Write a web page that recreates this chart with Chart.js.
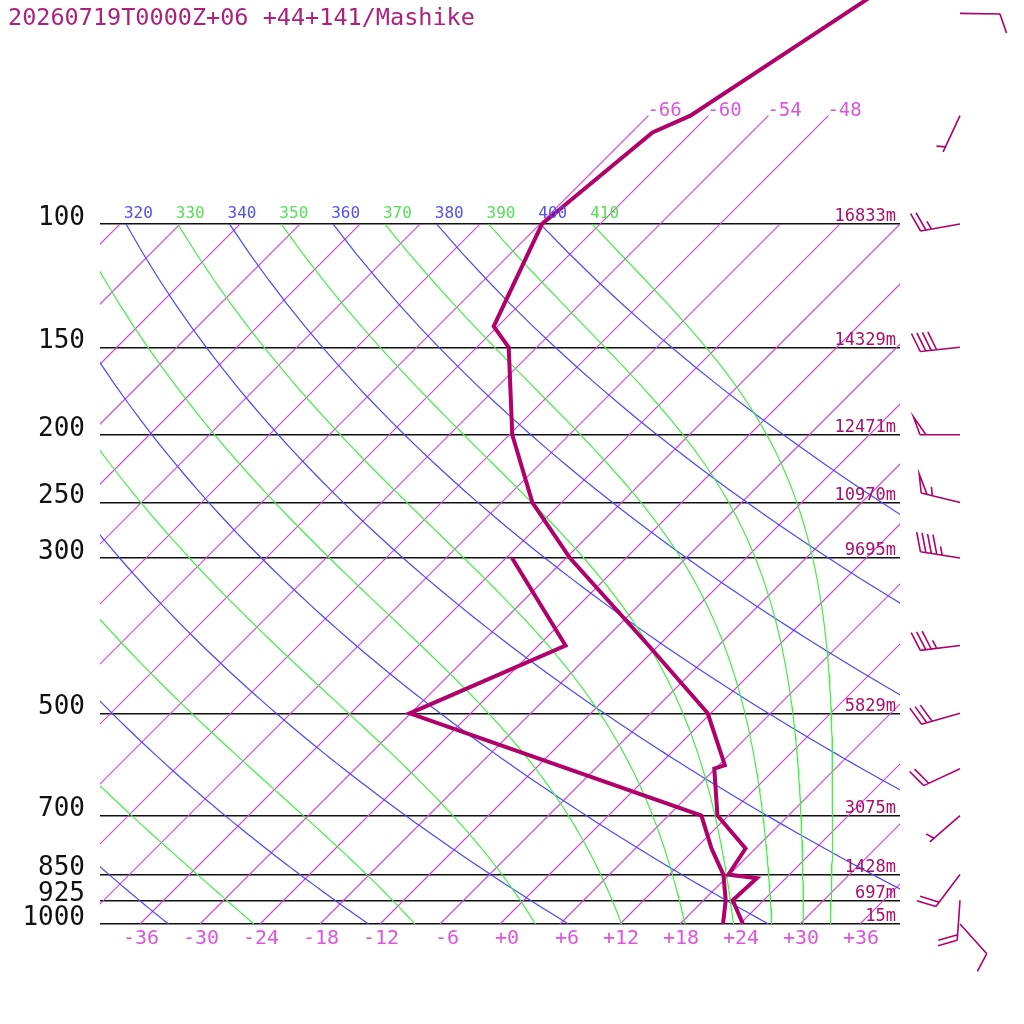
<!DOCTYPE html>
<html>
<head>
<meta charset="utf-8">
<script src="https://cdn.jsdelivr.net/npm/chart.js@4.4.1/dist/chart.umd.min.js"></script>
<style>
  html, body { margin: 0; padding: 0; background: #fff; }
  canvas { display: block; }
</style>
</head>
<body>
<canvas id="skewt" width="1024" height="1024"></canvas>
<script>
// sounding: 20260719T0000Z+06, Mashike
const titleText = "20260719T0000Z+06 +44+141/Mashike";

// isobars drawn across the diagram, with their labels and heights
const levels = [100, 150, 200, 250, 300, 500, 700, 850, 925, 1000];
const levelLabels = ["100", "150", "200", "250", "300", "500", "700", "850", "925", "1000"];
const levelHeights = ["16833m", "14329m", "12471m", "10970m", "9695m", "5829m", "3075m", "1428m", "697m", "15m"];

// temperature profile (hPa, degC)
const tempP = [30, 50, 70, 74, 100, 140, 150, 200, 250, 300, 400, 500, 593, 600, 700, 780, 850, 860, 925, 1000];
const tempC = [-48.5, -56.5, -61.8, -63.9, -65.8, -60.4, -56.8, -47.7, -38.9, -29.6, -13.0, -0.3, 6.6, 5.9, 10.9, 17.0, 17.9, 21.1, 20.9, 24.3];

// dew point profile (hPa, degC)
const dewP = [300, 400, 500, 700, 780, 850, 925, 1000];
const dewC = [-35.4, -21.3, -30.1, 9.3, 13.6, 17.4, 20.2, 22.3];

// winds (hPa, direction deg, speed kt)
const windP = [50, 70, 100, 150, 200, 250, 300, 400, 500, 600, 700, 850, 925, 1000];
const windDir = [91, 205, 260, 264, 270, 284, 279, 263, 254, 245, 229, 217, 184, 138];
const windKt = [10, 5, 25, 40, 50, 55, 45, 35, 30, 20, 5, 20, 20, 10];

// background lines
const isotherms = [-108, -102, -96, -90, -84, -78, -72, -66, -60, -54, -48, -42, -36, -30, -24, -18, -12, -6, 0, 6, 12, 18, 24, 30, 36];
const upperIsotherms = [-66, -60, -54, -48];
const dryTheta = [240, 260, 280, 300, 320, 340, 360, 380, 400];
const moistThetaE = [250, 270, 290, 310, 330, 350, 370, 390, 410];
const xTicks = [-36, -30, -24, -18, -12, -6, 0, 6, 12, 18, 24, 30, 36];

const pTop = 47.85;   // pressure at the top edge of the plot
const pUpper = 70;    // upper isotherms stop here
const skew = 30.4;    // x units per ln(1000/p)
const kappa = 0.2857;

const PROFILE = "#b0006a";
const ISO = "#d444d8";
const BLUE = "#4848ff";
const GREEN = "#44ee44";
const MONO = "DejaVu Sans Mono";

function skewX(tC, p) {
  return tC + skew * Math.log(1000 / p);
}

function pts(ps, ts) {
  return ps.map((p, i) => ({ x: skewX(ts[i], p), y: p }));
}

function dryLine(theta) {
  const out = [];
  for (let p = 1000; p >= 100; p -= 10) {
    out.push({ x: skewX(theta * Math.pow(p / 1000, kappa) - 273.15, p), y: p });
  }
  return out;
}

function satMix(p, T) {
  const tc = T - 273.15;
  const es = 6.112 * Math.exp(17.67 * tc / (tc + 243.5));
  return 0.622 * es / (p - es);
}

function moistRate(p, T) {
  const rs = satMix(p, T);
  const Lv = 2.501e6, Rd = 287.04, Cp = 1005.7;
  return (Rd * T + Lv * rs) / (Cp + Lv * Lv * rs * 0.622 / (Rd * T * T)) / p;
}

// pseudo-adiabat labelled by its potential temperature at the top (100 hPa)
function moistLine(thetaE) {
  let T = thetaE * Math.pow(100 / 1000, kappa);
  const out = [{ x: skewX(T - 273.15, 100), y: 100 }];
  for (let p = 100; p < 1000; p += 1) {
    const k1 = moistRate(p, T);
    const k2 = moistRate(p + 1, T + k1);
    T += (k1 + k2) / 2;
    if ((p + 1) % 10 === 0) out.push({ x: skewX(T - 273.15, p + 1), y: p + 1 });
  }
  return out;
}

function lineSet(data, color, width) {
  return {
    data: data, showLine: true, borderColor: color, borderWidth: width,
    pointRadius: 0, fill: false, tension: 0
  };
}

const datasets = [];
datasets.push(lineSet(pts(tempP, tempC), PROFILE, 4));
datasets.push(lineSet(pts(dewP, dewC), PROFILE, 4));
moistThetaE.forEach(t => datasets.push(lineSet(moistLine(t), GREEN, 1.2)));
dryTheta.forEach(t => datasets.push(lineSet(dryLine(t), BLUE, 1.2)));
isotherms.forEach(t => datasets.push(lineSet([{ x: skewX(t, 1000), y: 1000 }, { x: skewX(t, 100), y: 100 }], ISO, 1.2)));
upperIsotherms.forEach(t => datasets.push(lineSet([{ x: skewX(t, 100), y: 100 }, { x: skewX(t, pUpper), y: pUpper }], ISO, 1.2)));

function drawBarb(ctx, x0, y0, dir, kt) {
  const a = dir * Math.PI / 180;
  const ux = Math.sin(a), uy = -Math.cos(a);
  const ex = x0 + ux * 40, ey = y0 + uy * 40;
  const ang = Math.atan2(uy, ux) + 70 * Math.PI / 180;
  const bx = Math.cos(ang), by = Math.sin(ang);
  ctx.beginPath();
  ctx.moveTo(x0, y0);
  ctx.lineTo(ex, ey);
  let rest = Math.round(kt / 5) * 5;
  let pos = 0;
  while (rest >= 50) {
    const px = ex - ux * pos, py = ey - uy * pos;
    ctx.moveTo(px, py);
    ctx.lineTo(px + bx * 19, py + by * 19);
    ctx.lineTo(px - ux * 6, py - uy * 6);
    pos += 11.5;
    rest -= 50;
  }
  while (rest >= 10) {
    const px = ex - ux * pos, py = ey - uy * pos;
    ctx.moveTo(px, py);
    ctx.lineTo(px + bx * 20, py + by * 20);
    pos += 5.5;
    rest -= 10;
  }
  if (rest >= 5) {
    if (pos === 0) pos = 5.5;
    const px = ex - ux * pos, py = ey - uy * pos;
    ctx.moveTo(px, py);
    ctx.lineTo(px + bx * 9, py + by * 9);
  }
  ctx.stroke();
}

const decorations = {
  id: "decorations",
  afterDatasetsDraw(chart) {
    const ctx = chart.ctx;
    const xs = chart.scales.x, ys = chart.scales.y;
    const area = chart.chartArea;
    ctx.save();

    // height labels at the right end of each isobar
    ctx.font = "17px '" + MONO + "'";
    ctx.fillStyle = "#a8106a";
    ctx.textAlign = "right";
    ctx.textBaseline = "middle";
    levels.forEach((p, i) => {
      ctx.fillText(levelHeights[i], area.right - 4, ys.getPixelForValue(p) - 7);
    });

    // isotherm labels at the top of the upper segments
    ctx.font = "19px '" + MONO + "'";
    ctx.fillStyle = "#dd55dd";
    ctx.textAlign = "left";
    upperIsotherms.forEach(t => {
      ctx.fillText(String(t), xs.getPixelForValue(skewX(t, pUpper)) - 1, ys.getPixelForValue(pUpper) - 5);
    });

    // adiabat labels along 100 hPa, clipped to the plot
    ctx.beginPath();
    ctx.rect(area.left, 0, area.right - area.left, chart.height);
    ctx.clip();
    ctx.font = "16px '" + MONO + "'";
    const y100 = ys.getPixelForValue(100) - 10;
    dryTheta.forEach(t => {
      ctx.fillStyle = "#5050f0";
      ctx.fillText(String(t), xs.getPixelForValue(skewX(t * Math.pow(0.1, kappa) - 273.15, 100)) - 2, y100);
    });
    moistThetaE.forEach(t => {
      ctx.fillStyle = "#55e055";
      ctx.fillText(String(t), xs.getPixelForValue(skewX(t * Math.pow(0.1, kappa) - 273.15, 100)) - 2, y100);
    });
    ctx.restore();
  },
  afterDraw(chart) {
    const ctx = chart.ctx;
    const ys = chart.scales.y;
    const area = chart.chartArea;
    ctx.save();
    ctx.font = "23.5px '" + MONO + "'";
    ctx.fillStyle = "#b0207a";
    ctx.textAlign = "left";
    ctx.textBaseline = "alphabetic";
    ctx.fillText(titleText, 8, 25);

    ctx.strokeStyle = PROFILE;
    ctx.lineWidth = 1.6;
    ctx.lineJoin = "miter";
    windP.forEach((p, i) => {
      drawBarb(ctx, area.right + 60, ys.getPixelForValue(p), windDir[i], windKt[i]);
    });
    ctx.restore();
  }
};

new Chart(document.getElementById("skewt"), {
  type: "scatter",
  data: { datasets: datasets },
  options: {
    responsive: false,
    devicePixelRatio: 1,
    animation: false,
    events: [],
    layout: { autoPadding: false, padding: { left: 0, right: 124, top: 0, bottom: 0 } },
    plugins: { legend: { display: false }, tooltip: { enabled: false }, title: { display: false } },
    scales: {
      x: {
        type: "linear",
        min: -40,
        max: 40,
        afterFit: s => { s.height = 100; s.paddingLeft = 0; s.paddingRight = 0; },
        afterBuildTicks: s => { s.ticks = xTicks.map(v => ({ value: v })); },
        grid: { display: false },
        border: { display: false },
        ticks: {
          autoSkip: false,
          maxRotation: 0,
          align: "end",
          labelOffset: 19,
          padding: -5,
          color: "#dd55dd",
          font: { family: MONO, size: 20 },
          callback: v => (v >= 0 ? "+" + v : String(v))
        }
      },
      y: {
        type: "logarithmic",
        reverse: true,
        min: pTop,
        max: 1000,
        afterFit: s => { s.width = 100; s.paddingTop = 0; s.paddingBottom = 0; },
        afterBuildTicks: s => { s.ticks = levels.map(v => ({ value: v })); },
        grid: { display: true, color: "#111", lineWidth: 1.4, drawTicks: false },
        border: { display: false },
        ticks: {
          autoSkip: false,
          padding: 15,
          labelOffset: -6,
          color: "#111",
          font: { family: MONO, size: 26 },
          callback: v => levelLabels[levels.indexOf(v)]
        }
      }
    }
  },
  plugins: [decorations]
});
</script>
</body>
</html>
